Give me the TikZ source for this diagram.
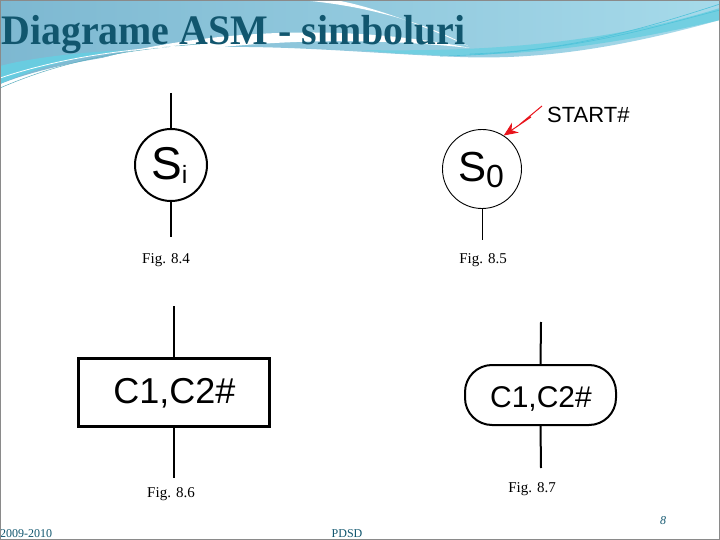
\documentclass[tikz,border=0pt]{standalone}
\usepackage{graphicx}
\usepackage{fontspec}
\setmainfont{Liberation Serif}
\newfontfamily\arialfont{Liberation Sans}
\usetikzlibrary{arrows.meta}

\definecolor{titleteal}{HTML}{11566E}
\definecolor{bandsteel}{HTML}{7DB8D1}
\definecolor{bandlight}{HTML}{A6DAEA}
\definecolor{bandcyan}{HTML}{4FC3DA}
\definecolor{startred}{HTML}{E8141C}
\definecolor{framegray}{HTML}{8A8A8A}

\begin{document}
\begin{tikzpicture}[x=1pt, y=-1pt, every node/.style={inner sep=0pt}]
		\tikzstyle{state}=[draw, shape=circle, minimum size=72pt, line width=2pt]
		\tikzstyle{figlabel}=[anchor=base, font=\fontsize{15}{15}\selectfont]
		\tikzstyle{footer}=[anchor=base, text=titleteal, font=\fontsize{12}{12}\selectfont]
		\tikzstyle{wire}=[line width=2.4pt]

		\useasboundingbox (0,0) rectangle (720,540);

    % Title band
		\shade[left color=bandsteel, right color=bandlight] (0,0) -- (720,0) -- (720,20)
			.. controls (620,48) and (540,60) .. (460,57)
			.. controls (380,54) and (300,46) .. (220,47)
			.. controls (130,50) and (50,64) .. (0,84) -- cycle;
		\fill[bandcyan!85] (0,84) .. controls (40,66) and (80,56) .. (130,50)
			.. controls (80,52) and (30,58) .. (0,66) -- cycle;
		\fill[bandcyan!80] (360,50) .. controls (450,60) and (560,58) .. (720,20) -- (720,8)
			.. controls (600,45) and (480,52) .. (360,50) -- cycle;
		\fill[white] (25,86) .. controls (120,40) and (300,14) .. (470,48)
			.. controls (320,32) and (160,44) .. (25,86) -- cycle;
		\fill[white] (300,0) .. controls (360,5) and (420,20) .. (468,46)
			.. controls (420,24) and (370,6) .. (335,0) -- cycle;
		\draw[bandcyan, line width=0.6pt] (440,56) .. controls (560,54) and (640,30) .. (720,4);
		\draw[bandcyan, line width=0.6pt] (470,54) .. controls (580,50) and (650,28) .. (720,10);
		\draw[bandcyan!70!gray, line width=0.5pt] (0,88) .. controls (60,62) and (120,50) .. (200,44);
		\draw[white, line width=0.8pt] (0,78) .. controls (60,58) and (120,50) .. (180,46);

		\node[anchor=base west] (title) at (1,45)
			{\scalebox{0.95}[1]{\fontsize{42}{42}\selectfont\bfseries\color{titleteal}Diagrame ASM - simboluri}};

    % Fig. 8.4 : state box
		\node[state] (si) at (171,165) {};
		\node[anchor=base west] (si text) at (151,180)
			{\arialfont\fontsize{46}{46}\selectfont S\raisebox{-4pt}{\fontsize{25}{25}\selectfont i}};
		\coordinate (si in) at (171,93);
		\coordinate (si out) at (171,237);
		\draw[wire] (si in) -- (si.north);
		\draw[wire] (si.south) -- (si out);
		\node[figlabel] (fig84) at (166,263) {Fig. 8.4};

    % Fig. 8.5 : initial state
		\node[state, minimum size=79pt, line width=0.9pt] (s0) at (482,169) {};
		\node[anchor=base west] (s0 text) at (458,182)
			{\arialfont\fontsize{42}{42}\selectfont S\raisebox{-6pt}{\fontsize{32}{32}\selectfont 0}};
		\coordinate (s0 out) at (482,240);
		\draw[line width=0.9pt] (s0.south) -- (s0 out);
		\node[anchor=base west] (start) at (547,123) {\arialfont\fontsize{22}{22}\selectfont START\#};
		\coordinate (zap0) at (542,106);
		\coordinate (zap1) at (519,125);
		\coordinate (zap2) at (531,117);
		\draw[startred, line width=1pt, line join=miter, -{Stealth[length=14pt, width=12pt]}]
			(zap0) -- (zap1) -- (zap2) -- (s0.57);
		\node[figlabel] (fig85) at (483,263) {Fig. 8.5};

    % Fig. 8.6 : conditional output box
		\node[draw, line width=2.6pt, minimum width=191pt, minimum height=68pt] (outbox) at (174,392.5) {};
		\node[anchor=base] (outbox text) at (174.5,403) {\arialfont\fontsize{36}{36}\selectfont C1,C2\#};
		\coordinate (outbox in) at (174,306);
		\coordinate (outbox out) at (174,478);
		\draw[wire] (outbox in) -- (outbox.north);
		\draw[wire] (outbox.south) -- (outbox out);
		\node[figlabel] (fig86) at (171,497) {Fig. 8.6};

    % Fig. 8.7 : conditional output oval
		\node[draw, line width=2pt, rounded corners=27pt, minimum width=151pt, minimum height=60pt] (outoval) at (540.5,395) {};
		\node[anchor=base] (outoval text) at (541,407) {\arialfont\fontsize{30}{30}\selectfont C1,C2\#};
		\coordinate (outoval in) at (541,322);
		\coordinate (outoval out) at (541,468);
		\draw[wire, line width=2pt] (outoval in) -- (outoval.north);
		\draw[wire, line width=2pt] (outoval.south) -- (outoval out);
		\node[figlabel] (fig87) at (532,492) {Fig. 8.7};

    % Footer
		\node[footer, anchor=base west] (year) at (0,537) {2009-2010};
		\node[footer] (course) at (347,537) {PDSD};
		\node[footer, font=\fontsize{12}{12}\selectfont\itshape] (page) at (663,524) {8};

		\draw[framegray, line width=1.2pt] (0.6,0.6) rectangle (719.4,539.4);
  \end{tikzpicture}
\end{document}
